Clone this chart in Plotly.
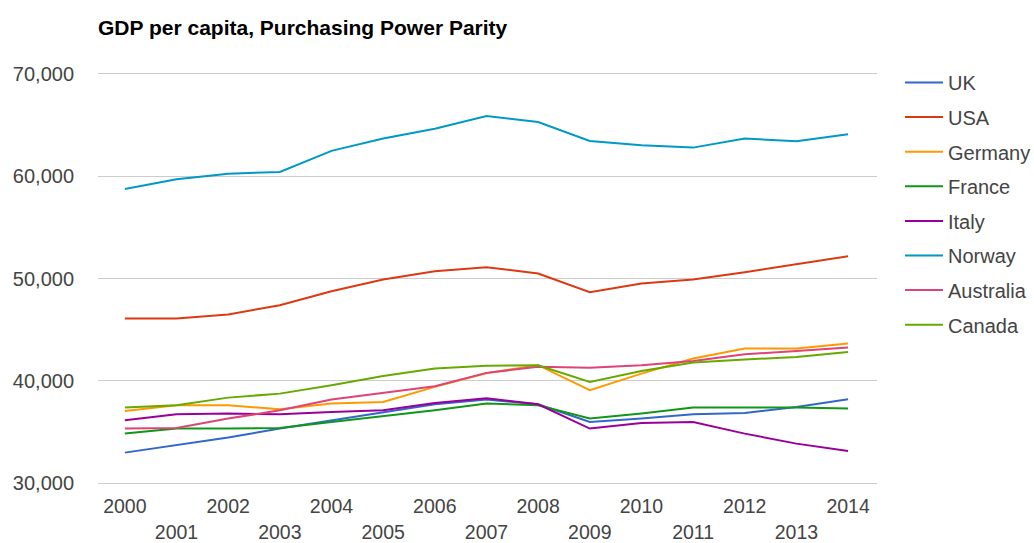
import plotly.graph_objects as go

years = list(range(2000, 2015))

uk = [32970, 33690, 34440, 35320, 36130, 36950, 37700, 38160, 37700, 35970, 36300, 36720, 36850, 37440, 38190]
usa = [46090, 46090, 46480, 47390, 48760, 49900, 50720, 51100, 50490, 48660, 49510, 49900, 50620, 51370, 52180]
germany = [37050, 37600, 37600, 37210, 37770, 37930, 39400, 40740, 41520, 39070, 40700, 42170, 43150, 43150, 43640]
france = [34830, 35320, 35320, 35380, 35970, 36530, 37110, 37770, 37600, 36300, 36790, 37380, 37380, 37380, 37280]
italy = [36130, 36720, 36790, 36720, 36950, 37110, 37830, 38290, 37700, 35320, 35870, 35970, 34830, 33850, 33130]
norway = [58750, 59700, 60250, 60420, 62480, 63700, 64650, 65900, 65300, 63450, 63030, 62800, 63680, 63420, 64100]
australia = [35320, 35380, 36300, 37110, 38160, 38810, 39460, 40770, 41360, 41260, 41520, 41940, 42590, 42920, 43250]
canada = [37380, 37600, 38350, 38740, 39560, 40470, 41190, 41470, 41520, 39890, 40960, 41780, 42070, 42330, 42820]

series = [
    ("UK", uk, "#3366cc"),
    ("USA", usa, "#dc3912"),
    ("Germany", germany, "#ff9900"),
    ("France", france, "#109618"),
    ("Italy", italy, "#990099"),
    ("Norway", norway, "#0099c6"),
    ("Australia", australia, "#dd4477"),
    ("Canada", canada, "#66aa00"),
]

y_ticks = [30000, 40000, 50000, 60000, 70000]
y_tick_labels = ["30,000", "40,000", "50,000", "60,000", "70,000"]
even_years = [y for y in years if y % 2 == 0]
odd_years = [y for y in years if y % 2 == 1]

font_family = "Arial, Liberation Sans, sans-serif"
label_color = "#444444"

fig = go.Figure()
for name, values, color in series:
    fig.add_trace(go.Scatter(
        x=years, y=values, name=name, mode="lines",
        line=dict(color=color, width=2),
        legendgroup=name,
    ))

# carrier trace for the second row of year labels
fig.add_trace(go.Scatter(x=[], y=[], xaxis="x2", showlegend=False, hoverinfo="skip"))

x_range = [1999.48, 2014.56]

fig.update_layout(
    width=1034, height=543,
    margin=dict(l=98, r=157, t=74, b=60, autoexpand=False),
    paper_bgcolor="white", plot_bgcolor="white",
    font=dict(family=font_family, size=20, color=label_color),
    title=dict(
        text="<b>GDP per capita, Purchasing Power Parity</b>",
        x=98 / 1034, xanchor="left", y=1 - 28 / 543, yanchor="middle",
        font=dict(family=font_family, size=21, color="#000000"),
    ),
    xaxis=dict(
        range=x_range, tickvals=even_years, ticktext=[str(y) for y in even_years],
        showgrid=False, zeroline=False, ticks="",
        showline=True, linecolor="#cccccc", linewidth=1, mirror=True,
        ticklabelstandoff=6,
        tickfont=dict(size=19.5, color=label_color),
    ),
    xaxis2=dict(
        range=x_range, overlaying="x", side="bottom", anchor="y",
        tickvals=odd_years, ticktext=[str(y) for y in odd_years],
        showgrid=False, zeroline=False, showline=False, ticks="",
        ticklabelstandoff=35,
        tickfont=dict(size=19.5, color=label_color),
    ),
    yaxis=dict(
        range=[30000, 70000], tickvals=y_ticks, ticktext=y_tick_labels,
        showgrid=True, gridcolor="#cccccc", gridwidth=1, zeroline=False,
        showline=False, ticks="", ticklabelstandoff=23,
        tickfont=dict(size=20, color=label_color),
    ),
    legend=dict(
        x=900 / 1034, xanchor="left", xref="container",
        y=1 - 63 / 543, yanchor="top", yref="container",
        traceorder="grouped", tracegroupgap=5.6, itemwidth=38,
        maxheight=0.95,
        font=dict(family=font_family, size=20, color=label_color),
        bgcolor="rgba(0,0,0,0)",
    ),
)

fig.write_html("out.html")
